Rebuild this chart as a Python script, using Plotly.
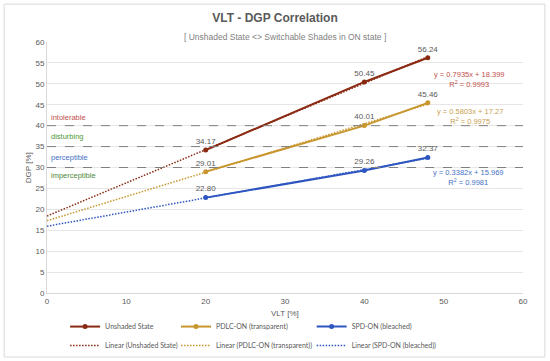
import plotly.graph_objects as go

vlt = [20, 40, 48]
unshaded = [34.17, 50.45, 56.24]
pdlc = [29.01, 40.01, 45.46]
spd = [22.80, 29.26, 32.37]

trend_x = [0, 48]
fits = {
    "Unshaded State": (0.7935, 18.399, 0.9993),
    "PDLC-ON (transparent)": (0.5803, 17.27, 0.9975),
    "SPD-ON (bleached)": (0.3382, 15.969, 0.9981),
}
thresholds = [30, 35, 40]
zone_labels = ["intolerable", "disturbing", "perceptible", "imperceptible"]
zone_label_y = [42, 37.3, 32.5, 28]
zone_colors = ["#C0504D", "#4E9A3A", "#4472C4", "#4E8A3A"]

names = ["Unshaded State", "PDLC-ON (transparent)", "SPD-ON (bleached)"]
series = [unshaded, pdlc, spd]
colors = ["#8B2A12", "#C8962E", "#2E56C0"]
eq_colors = ["#C0504D", "#C9A050", "#4472C4"]
eq_pos = [(53.2, 51.1), (53.3, 42.3), (53.1, 27.6)]
legend_ids = ["legend", "legend2", "legend3"]
legend_x = [0.038, 0.271, 0.556]

fig = go.Figure()

for name, vals, col, lg in zip(names, series, colors, legend_ids):
    fig.add_trace(go.Scatter(
        x=vlt, y=vals, name=name, mode="lines+markers+text",
        line=dict(color=col, width=2), marker=dict(color=col, size=5),
        text=[f"{v:.2f}" for v in vals], textposition="top center",
        textfont=dict(size=8, color="#595959", family="Liberation Sans"),
        legend=lg, cliponaxis=False,
    ))

for name, col, lg in zip(names, colors, legend_ids):
    m, b, r2 = fits[name]
    fig.add_trace(go.Scatter(
        x=trend_x, y=[m * x + b for x in trend_x], name=f"Linear ({name})",
        mode="lines", line=dict(color=col, width=1.5, dash="1.5px,1.5px"),
        legend=lg,
    ))

for t in thresholds:
    fig.add_shape(type="line", xref="paper", x0=0, x1=1, yref="y", y0=t, y1=t,
                  line=dict(color="#808080", width=1, dash="dash"))

for lbl, yy, c in zip(zone_labels, zone_label_y, zone_colors):
    fig.add_annotation(x=0.3, y=yy, xref="x", yref="y", text=lbl, showarrow=False,
                       xanchor="left", font=dict(size=7.5, color=c, family="Liberation Sans"))

for name, c, (ex, ey) in zip(names, eq_colors, eq_pos):
    m, b, r2 = fits[name]
    fig.add_annotation(x=ex, y=ey, xref="x", yref="y",
                       text=f"y = {m}x + {b}<br>R<sup>2</sup> = {r2}", showarrow=False,
                       font=dict(size=7.5, color=c, family="Liberation Sans"))

fig.add_annotation(x=0.5, y=1.048, xref="paper", yref="paper",
                   text="[ Unshaded State <> Switchable Shades in ON state ]", showarrow=False,
                   font=dict(size=8.5, color="#7f7f7f", family="Liberation Sans"))

fig.add_annotation(x=-0.052, y=0.5, xref="paper", yref="paper", text="DGP [%]", textangle=-90,
                   showarrow=False, font=dict(size=8, color="#595959", family="Liberation Sans"))

fig.add_annotation(x=0.5, y=-0.08, xref="paper", yref="paper", text="VLT [%]", showarrow=False,
                   yanchor="middle", font=dict(size=8, color="#595959", family="Liberation Sans"))

fig.add_shape(type="rect", xref="paper", yref="paper", x0=-0.09, x1=1.046, y0=-0.255, y1=1.151,
              line=dict(color="#D9D9D9", width=1), layer="below")

legend_style = dict(orientation="v", y=-0.076,
                    xanchor="left", yanchor="top", font=dict(size=7, family="Lato", color="#595959"),
                    itemwidth=30, bgcolor="rgba(0,0,0,0)", tracegroupgap=0)

fig.update_layout(
    width=550, height=361,
    margin=dict(l=47, r=27, t=42, b=68, autoexpand=False),
    paper_bgcolor="white", plot_bgcolor="white",
    font=dict(family="Liberation Sans", color="#595959", size=8),
    title=dict(
        text="<b>VLT - DGP Correlation</b>",
        x=0.5, xanchor="center", y=1 - 18 / 361, yanchor="middle",
        font=dict(size=12, color="#595959", family="Liberation Sans"),
    ),
    xaxis=dict(range=[0, 60], dtick=10, showgrid=False, zeroline=False, automargin=False,
               showline=True, linecolor="#D9D9D9", ticks="",
               tickfont=dict(size=8)),
    yaxis=dict(range=[0, 60], dtick=5, showgrid=True, gridcolor="#E6E6E6", zeroline=False,
               automargin=False, showline=True, linecolor="#D9D9D9", ticks="",
               tickfont=dict(size=8)),
    legend=dict(x=legend_x[0], **legend_style),
    legend2=dict(x=legend_x[1], **legend_style),
    legend3=dict(x=legend_x[2], **legend_style),
    showlegend=True,
)

fig.write_html("out.html", config={"displayModeBar": False},
               post_script="document.body.style.margin='0';")
